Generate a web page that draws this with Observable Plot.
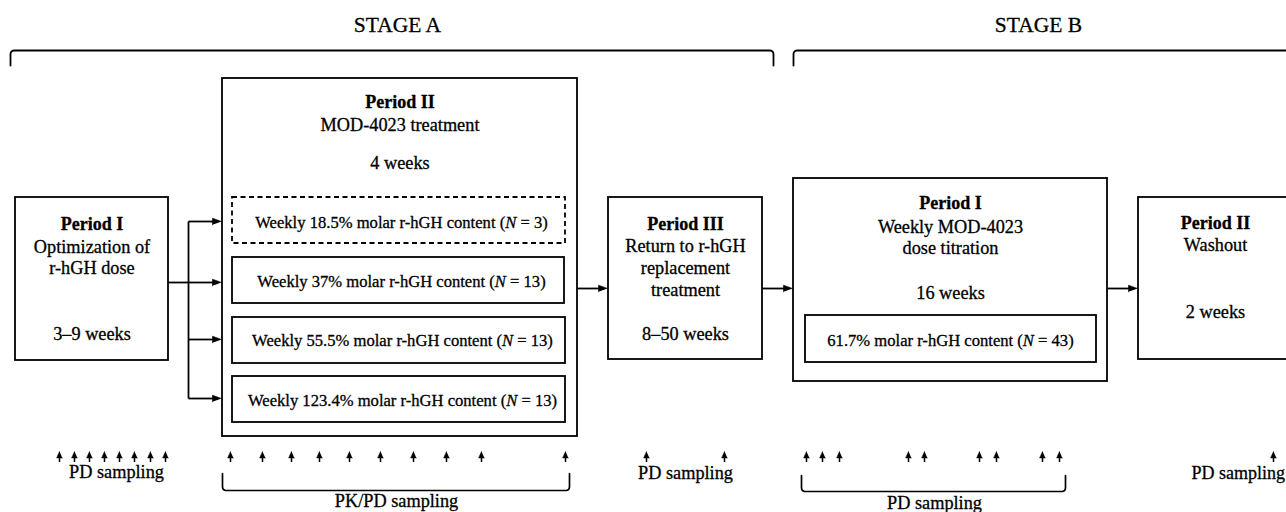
<!DOCTYPE html>
<html>
<head>
<meta charset="utf-8">
<script src="https://cdn.jsdelivr.net/npm/d3@7"></script>
<script src="https://cdn.jsdelivr.net/npm/@observablehq/plot@0.6"></script>
<style>
  html, body { margin: 0; padding: 0; background: #fff; }
  #chart svg { display: block; }
</style>
</head>
<body>
<div id="chart"></div>
<script>
// ---------------- content (text values) ----------------
const stageTitles = ["STAGE A", "STAGE B"];
const periodTitles = ["Period I", "Period II", "Period III", "Period I", "Period II"];
const periodDescriptions = [
  ["Optimization of", "r-hGH dose"],
  ["MOD-4023 treatment"],
  ["Return to r-hGH", "replacement", "treatment"],
  ["Weekly MOD-4023", "dose titration"],
  ["Washout"]
];
const durations = ["3–9 weeks", "4 weeks", "8–50 weeks", "16 weeks", "2 weeks"];
const armLabels = [
  "Weekly 18.5% molar r-hGH content (N = 3)",
  "Weekly 37% molar r-hGH content (N = 13)",
  "Weekly 55.5% molar r-hGH content (N = 13)",
  "Weekly 123.4% molar r-hGH content (N = 13)",
  "61.7% molar r-hGH content (N = 43)"
];
const armDashed = [true, false, false, false, false];
const samplingLabels = ["PD sampling", "PK/PD sampling", "PD sampling", "PD sampling", "PD sampling"];

// ---------------- layout (diagram geometry, px) ----------------
const stageLayout = [
  {cx: 397, y: 31, path: [[10, 65], [10, 50], [773, 50], [773, 65]]},
  {cx: 1038, y: 31, path: [[793, 65], [793, 50], [1300, 50]]}
];
const periodBoxes = [
  {x1: 15, x2: 168, y1: 197, y2: 360, cx: 91.5, titleY: 229, descY: [252, 273], durY: 339},
  {x1: 222, x2: 577, y1: 78, y2: 436, cx: 399.5, titleY: 107, descY: [130], durY: 168},
  {x1: 608, x2: 762, y1: 197, y2: 359, cx: 685, titleY: 229, descY: [251, 273, 295], durY: 339},
  {x1: 793, x2: 1107, y1: 178, y2: 381, cx: 950, titleY: 208, descY: [232, 253], durY: 298},
  {x1: 1138, x2: 1300, y1: 197, y2: 359, cx: 1215, titleY: 228, descY: [250], durY: 317}
];
const armBoxes = [
  {x1: 232, x2: 565, y1: 197, y2: 243, cx: 401, ty: 227},
  {x1: 232, x2: 564, y1: 257, y2: 303, cx: 401, ty: 286},
  {x1: 232, x2: 565, y1: 317, y2: 363, cx: 402, ty: 345},
  {x1: 232, x2: 565, y1: 376, y2: 422, cx: 402, ty: 405},
  {x1: 805, x2: 1096, y1: 315, y2: 362, cx: 950, ty: 345}
];
const plainSegments = [
  {x1: 168, y1: 282, x2: 188, y2: 282},
  {x1: 188, y1: 221, x2: 188, y2: 398}
];
const branchY = [221, 282, 339, 398];
const flowArrows = [
  ...branchY.map(y => ({x1: 188, y1: y, x2: 221, y2: y})),
  {x1: 577, y1: 288, x2: 607, y2: 288},
  {x1: 762, y1: 288, x2: 792, y2: 288},
  {x1: 1107, y1: 288, x2: 1137, y2: 288}
];
// sampling time marks (x positions of the small upward arrows)
const samplingTimes = [
  [59, 74, 89, 104, 119, 134, 150, 165],
  [230, 262, 291, 319, 349, 380, 413, 446, 481, 565],
  [646, 724],
  [806, 822, 839, 908, 924, 979, 996, 1042, 1059],
  [1273]
];
const samplingLabelPos = [
  {x: 116, y: 477, anchor: "middle"},
  {x: 396, y: 506, anchor: "middle"},
  {x: 685, y: 478, anchor: "middle"},
  {x: 934, y: 508, anchor: "middle"},
  {x: 1191, y: 478, anchor: "start"}
];
const samplingBrackets = [
  [[222, 473], [222, 490], [569, 490], [569, 473]],
  [[801, 475], [801, 491], [1065, 491], [1065, 475]]
];
const sampleTipY = 451, sampleBaseY = 462;

// ---------------- derived tables ----------------
const font = "'Liberation Serif', 'Times New Roman', Times, serif";

// round the corners of a polyline path (quarter-arc approximation)
function roundPath(pts, r = 4, n = 5) {
  const out = [pts[0]];
  for (let i = 1; i < pts.length - 1; i++) {
    const [px, py] = pts[i - 1], [cx, cy] = pts[i], [nx, ny] = pts[i + 1];
    const d1 = Math.hypot(cx - px, cy - py), d2 = Math.hypot(nx - cx, ny - cy);
    const ax = cx + (px - cx) * r / d1, ay = cy + (py - cy) * r / d1;
    const bx = cx + (nx - cx) * r / d2, by = cy + (ny - cy) * r / d2;
    for (let k = 0; k <= n; k++) {
      const t = k / n;
      const x = (1 - t) * (1 - t) * ax + 2 * (1 - t) * t * cx + t * t * bx;
      const y = (1 - t) * (1 - t) * ay + 2 * (1 - t) * t * cy + t * t * by;
      out.push([x, y]);
    }
  }
  out.push(pts[pts.length - 1]);
  return out;
}

const stageText = stageTitles.map((t, i) => ({text: t, x: stageLayout[i].cx, y: stageLayout[i].y}));
const stagePaths = stageLayout.flatMap((s, i) => roundPath(s.path).map(([x, y]) => ({id: "s" + i, x, y})));
const bracketPaths = samplingBrackets.flatMap((b, i) => roundPath(b).map(([x, y]) => ({id: "b" + i, x, y})));
const titleText = periodTitles.map((t, i) => ({text: t, x: periodBoxes[i].cx, y: periodBoxes[i].titleY}));
const bodyText = [
  ...periodDescriptions.flatMap((lines, i) => lines.map((t, j) => ({text: t, x: periodBoxes[i].cx, y: periodBoxes[i].descY[j]}))),
  ...durations.map((t, i) => ({text: t, x: periodBoxes[i].cx, y: periodBoxes[i].durY}))
];
const armText = armLabels.map((t, i) => ({text: t, x: armBoxes[i].cx, y: armBoxes[i].ty}));
const solidArms = armBoxes.filter((b, i) => !armDashed[i]);
const dashedArms = armBoxes.filter((b, i) => armDashed[i]);

const headLen = 9, headHalf = 3.3;
const stems = flowArrows.map(a => ({x1: a.x1, y1: a.y1, x2: a.x2 - headLen + 1, y2: a.y2}));
const heads = flowArrows.flatMap((a, i) => [
  {id: "h" + i, x: a.x2, y: a.y2},
  {id: "h" + i, x: a.x2 - headLen, y: a.y2 - headHalf},
  {id: "h" + i, x: a.x2 - headLen, y: a.y2 + headHalf}
]);
const sampleHeadLen = 6.5, sampleHalf = 2.9;
const sampleMarks = samplingTimes.flatMap((g, gi) => g.map((x, k) => ({id: `p${gi}-${k}`, x})));
const sampleStems = sampleMarks.map(d => ({x: d.x, y1: sampleBaseY, y2: sampleTipY + sampleHeadLen - 1}));
const sampleHeads = sampleMarks.flatMap(d => [
  {id: d.id, x: d.x, y: sampleTipY},
  {id: d.id, x: d.x - sampleHalf, y: sampleTipY + sampleHeadLen},
  {id: d.id, x: d.x + sampleHalf, y: sampleTipY + sampleHeadLen}
]);
const sampLabelText = samplingLabels.map((t, i) => ({text: t, ...samplingLabelPos[i]}));

const sw = 1.8;
const txt = {x: "x", y: "y", text: "text", lineAnchor: "bottom", fill: "black", stroke: "black", strokeWidth: 0.3};
const chart = Plot.plot({
  width: 1286,
  height: 512,
  margin: 0,
  x: {type: "identity", axis: null},
  y: {type: "identity", axis: null},
  style: {fontFamily: font, background: "white", color: "black"},
  marks: [
    // stage brackets
    Plot.line(stagePaths, {x: "x", y: "y", z: "id", stroke: "black", strokeWidth: sw, strokeLinejoin: "round"}),
    Plot.text(stageText, {...txt, fontSize: 21.5}),
    // connectors
    Plot.link(plainSegments, {x1: "x1", y1: "y1", x2: "x2", y2: "y2", stroke: "black", strokeWidth: sw}),
    Plot.link(stems, {x1: "x1", y1: "y1", x2: "x2", y2: "y2", stroke: "black", strokeWidth: sw}),
    Plot.line(heads, {x: "x", y: "y", z: "id", fill: "black", stroke: "black", strokeWidth: 0.6}),
    // period boxes
    Plot.rect(periodBoxes, {x1: "x1", x2: "x2", y1: "y1", y2: "y2", fill: "white", stroke: "black", strokeWidth: sw}),
    Plot.rect(solidArms, {x1: "x1", x2: "x2", y1: "y1", y2: "y2", fill: "white", stroke: "black", strokeWidth: sw}),
    Plot.rect(dashedArms, {x1: "x1", x2: "x2", y1: "y1", y2: "y2", fill: "white", stroke: "black", strokeWidth: sw, strokeDasharray: "5,3.5"}),
    // box texts
    Plot.text(titleText, {...txt, fontSize: 18, fontWeight: "bold"}),
    Plot.text(bodyText, {...txt, fontSize: 18.3}),
    Plot.text(armText, {...txt, fontSize: 16.6}),
    // sampling marks
    Plot.ruleX(sampleStems, {x: "x", y1: "y1", y2: "y2", stroke: "black", strokeWidth: 1.5}),
    Plot.line(sampleHeads, {x: "x", y: "y", z: "id", fill: "black", stroke: "black", strokeWidth: 0.5}),
    Plot.line(bracketPaths, {x: "x", y: "y", z: "id", stroke: "black", strokeWidth: 1.7, strokeLinejoin: "round"}),
    Plot.text(sampLabelText.filter(d => d.anchor === "middle"), {...txt, fontSize: 18.3}),
    Plot.text(sampLabelText.filter(d => d.anchor === "start"), {...txt, fontSize: 18, textAnchor: "start"})
  ]
});

// italicise the sample-size symbol N inside "(N = ...)"
chart.querySelectorAll("text").forEach(t => {
  const s = t.textContent;
  const m = s.match(/^(.*\()N( = .*)$/);
  if (m) {
    t.textContent = "";
    const ns = "http://www.w3.org/2000/svg";
    const a = document.createElementNS(ns, "tspan"); a.textContent = m[1];
    const b = document.createElementNS(ns, "tspan"); b.textContent = "N"; b.setAttribute("font-style", "italic");
    const c = document.createElementNS(ns, "tspan"); c.textContent = m[2];
    t.append(a, b, c);
  }
});

document.getElementById("chart").appendChild(chart);
</script>
</body>
</html>
